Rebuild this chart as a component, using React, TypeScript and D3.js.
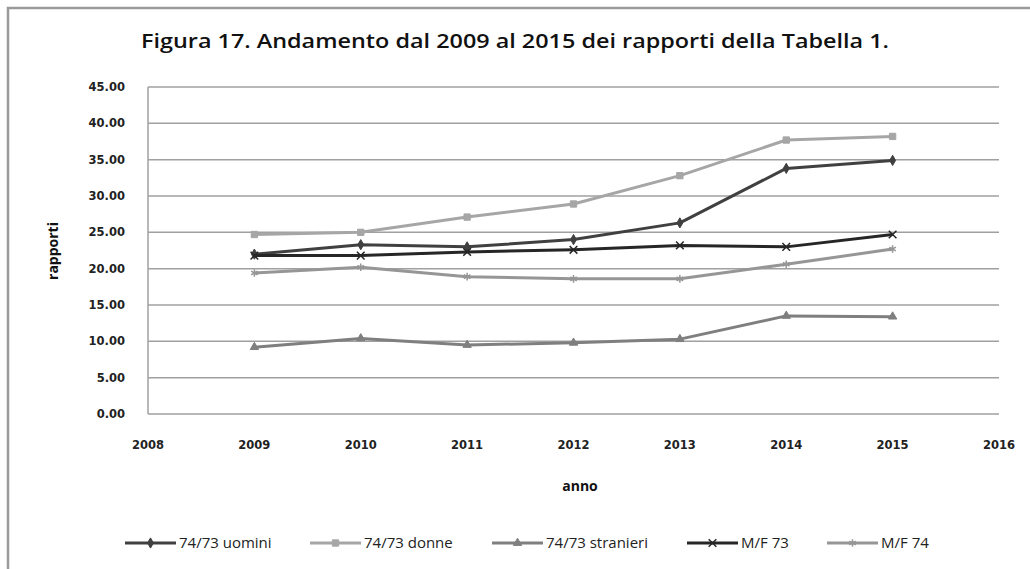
import React, { useEffect, useRef } from 'react';
import * as d3 from 'd3';

const years = [2009, 2010, 2011, 2012, 2013, 2014, 2015];
const uomini = [22.0, 23.3, 23.0, 24.0, 26.3, 33.8, 34.9];
const donne = [24.7, 25.0, 27.1, 28.9, 32.8, 37.7, 38.2];
const stranieri = [9.2, 10.4, 9.5, 9.8, 10.3, 13.5, 13.4];
const mf73 = [21.8, 21.8, 22.3, 22.6, 23.2, 23.0, 24.7];
const mf74 = [19.4, 20.2, 18.9, 18.6, 18.6, 20.6, 22.7];

const xTicks = [2008, 2009, 2010, 2011, 2012, 2013, 2014, 2015, 2016];
const yTicks = [0, 5, 10, 15, 20, 25, 30, 35, 40, 45];

const series = [
  { name: '74/73 uomini', values: uomini, color: '#404040', symbol: d3.symbolDiamond, size: 30, legendX: 125 },
  { name: '74/73 donne', values: donne, color: '#a6a6a6', symbol: d3.symbolSquare, size: 40, legendX: 310 },
  { name: '74/73 stranieri', values: stranieri, color: '#7f7f7f', symbol: d3.symbolTriangle, size: 30, legendX: 492 },
  { name: 'M/F 73', values: mf73, color: '#262626', symbol: d3.symbolTimes, size: 40, legendX: 687 },
  { name: 'M/F 74', values: mf74, color: '#969696', symbol: d3.symbolAsterisk, size: 40, legendX: 827 },
];

const App = () => {
  const svgRef = useRef(null);

  useEffect(() => {
    const svg = d3.select(svgRef.current);
    svg.selectAll('*').remove();

    const width = 1030;
    const height = 569;
    const margin = { top: 87, right: 31, bottom: 155, left: 148 };
    const innerWidth = width - margin.left - margin.right;
    const innerHeight = height - margin.top - margin.bottom;

    const x = d3.scaleLinear().domain([2008, 2016]).range([0, innerWidth]);
    const y = d3.scaleLinear().domain([0, 45]).range([innerHeight, 0]);

    // outer chart frame
    svg.append('rect')
      .attr('x', 8)
      .attr('y', 8)
      .attr('width', 1040)
      .attr('height', 580)
      .attr('fill', '#fff')
      .attr('stroke', '#9a9a9a')
      .attr('stroke-width', 2.5);

    // title
    svg.append('text')
      .attr('x', 515)
      .attr('y', 48)
      .attr('text-anchor', 'middle')
      .attr('font-family', 'Open Sans, sans-serif')
      .attr('font-weight', 600)
      .attr('font-size', 19)
      .attr('textLength', 748)
      .attr('lengthAdjust', 'spacingAndGlyphs')
      .attr('fill', '#111')
      .text('Figura 17. Andamento dal 2009 al 2015 dei rapporti della Tabella 1.');

    const g = svg.append('g')
      .attr('transform', `translate(${margin.left},${margin.top})`);

    // grid lines
    g.append('g')
      .selectAll('line')
      .data(yTicks)
      .enter()
      .append('line')
      .attr('x1', 0)
      .attr('x2', innerWidth)
      .attr('y1', d => y(d))
      .attr('y2', d => y(d))
      .attr('stroke', '#a0a0a0')
      .attr('stroke-width', 1.5);

    // left axis line
    g.append('line')
      .attr('x1', 0)
      .attr('x2', 0)
      .attr('y1', 0)
      .attr('y2', innerHeight)
      .attr('stroke', '#a0a0a0')
      .attr('stroke-width', 1.5);

    // y tick labels
    g.append('g')
      .selectAll('text')
      .data(yTicks)
      .enter()
      .append('text')
      .attr('x', -23)
      .attr('y', d => y(d) + 4)
      .attr('text-anchor', 'end')
      .attr('font-family', 'DejaVu Sans, sans-serif')
      .attr('font-weight', 'bold')
      .attr('font-size', 11.5)
      .attr('fill', '#222')
      .text(d => d.toFixed(2));

    // x tick labels
    g.append('g')
      .selectAll('text')
      .data(xTicks)
      .enter()
      .append('text')
      .attr('x', d => x(d))
      .attr('y', innerHeight + 35)
      .attr('text-anchor', 'middle')
      .attr('font-family', 'DejaVu Sans, sans-serif')
      .attr('font-weight', 'bold')
      .attr('font-size', 11.5)
      .attr('fill', '#222')
      .text(d => d);

    // axis titles
    svg.append('text')
      .attr('transform', 'translate(58,251) rotate(-90)')
      .attr('text-anchor', 'middle')
      .attr('font-family', 'Open Sans, sans-serif')
      .attr('font-weight', 'bold')
      .attr('font-size', 14)
      .attr('fill', '#111')
      .text('rapporti');

    svg.append('text')
      .attr('x', 580)
      .attr('y', 491)
      .attr('text-anchor', 'middle')
      .attr('font-family', 'Open Sans, sans-serif')
      .attr('font-weight', 'bold')
      .attr('font-size', 14)
      .attr('fill', '#111')
      .text('anno');

    const line = d3.line()
      .x((d, i) => x(years[i]))
      .y(d => y(d));

    series.forEach(s => {
      g.append('path')
        .datum(s.values)
        .attr('fill', 'none')
        .attr('stroke', s.color)
        .attr('stroke-width', 3)
        .attr('stroke-linejoin', 'round')
        .attr('d', line);

      const sym = d3.symbol().type(s.symbol).size(s.size);
      const isStroke = s.symbol === d3.symbolTimes || s.symbol === d3.symbolAsterisk;
      g.append('g')
        .selectAll('path')
        .data(s.values)
        .enter()
        .append('path')
        .attr('transform', (d, i) => `translate(${x(years[i])},${y(d)})`)
        .attr('d', sym)
        .attr('fill', isStroke ? 'none' : s.color)
        .attr('stroke', s.color)
        .attr('stroke-width', isStroke ? 1.5 : 1);
    });

    // legend
    const legendY = 543;
    series.forEach(s => {
      const lg = svg.append('g');
      lg.append('line')
        .attr('x1', s.legendX)
        .attr('x2', s.legendX + 51)
        .attr('y1', legendY)
        .attr('y2', legendY)
        .attr('stroke', s.color)
        .attr('stroke-width', 3);
      const isStroke = s.symbol === d3.symbolTimes || s.symbol === d3.symbolAsterisk;
      lg.append('path')
        .attr('transform', `translate(${s.legendX + 25.5},${legendY})`)
        .attr('d', d3.symbol().type(s.symbol).size(s.size)())
        .attr('fill', isStroke ? 'none' : s.color)
        .attr('stroke', s.color)
        .attr('stroke-width', isStroke ? 1.5 : 1);
      lg.append('text')
        .attr('x', s.legendX + 54)
        .attr('y', legendY + 5)
        .attr('font-family', 'Open Sans, sans-serif')
        .attr('font-size', 15)
        .attr('fill', '#222')
        .text(s.name);
    });
  }, []);

  return (
    <svg
      ref={svgRef}
      width={1030}
      height={569}
      style={{ position: 'fixed', left: 0, top: 0, background: '#fff' }}
    ></svg>
  );
};

export default App;
